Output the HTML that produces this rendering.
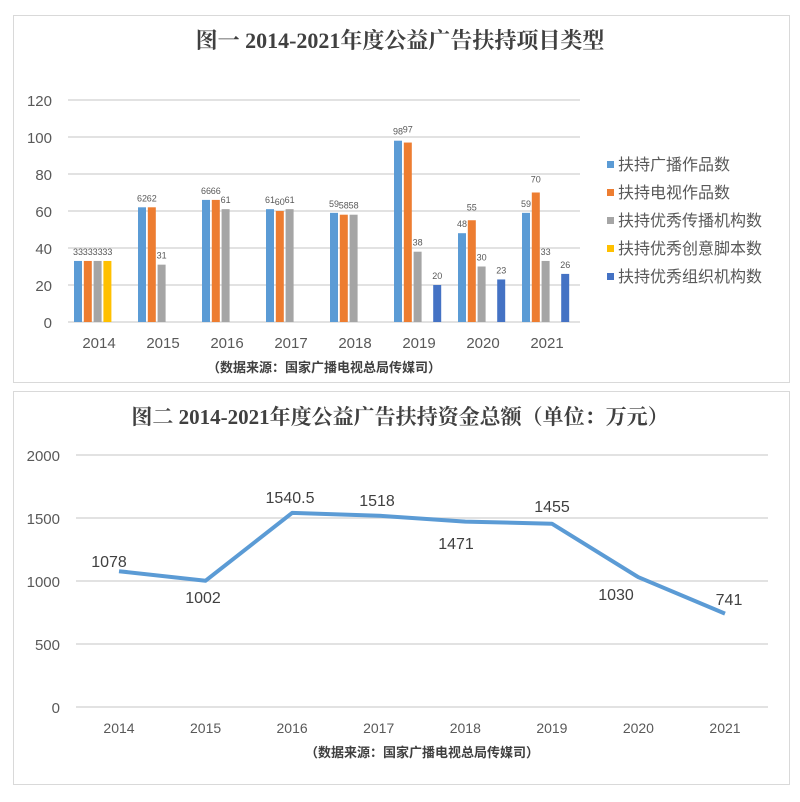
<!DOCTYPE html>
<html><head><meta charset="utf-8"><style>
body{margin:0;background:#fff;}
svg{display:block;font-family:"Liberation Sans","Noto Sans CJK SC",sans-serif;}
</style></head><body>
<svg width="800" height="802" viewBox="0 0 800 802" xmlns="http://www.w3.org/2000/svg">
<rect x="13.5" y="15.5" width="776" height="367" fill="#fff" stroke="#d9d9d9"/>
<rect x="13.5" y="391.5" width="776" height="393" fill="#fff" stroke="#d9d9d9"/>
<text x="400" y="48" text-anchor="middle" font-size="22" font-weight="bold" fill="#404040" font-family="'Liberation Serif','Noto Serif CJK SC',serif">图一 2014-2021年度公益广告扶持项目类型</text>
<g stroke="#d9d9d9" stroke-width="1.5">
<line x1="68" x2="580" y1="100" y2="100"/><line x1="68" x2="580" y1="137" y2="137"/><line x1="68" x2="580" y1="174" y2="174"/><line x1="68" x2="580" y1="211" y2="211"/><line x1="68" x2="580" y1="248" y2="248"/><line x1="68" x2="580" y1="285" y2="285"/><line x1="68" x2="580" y1="322" y2="322"/>
</g>
<g font-size="15" fill="#595959" text-anchor="end">
<text x="52" y="106">120</text><text x="52" y="143">100</text><text x="52" y="180">80</text><text x="52" y="217">60</text><text x="52" y="254">40</text><text x="52" y="291">20</text><text x="52" y="328">0</text>
</g>
<g id="bars"></g>
<g font-size="15" fill="#595959" text-anchor="middle">
<text x="99" y="348">2014</text><text x="163" y="348">2015</text><text x="227" y="348">2016</text><text x="291" y="348">2017</text><text x="355" y="348">2018</text><text x="419" y="348">2019</text><text x="483" y="348">2020</text><text x="547" y="348">2021</text>
</g>
<text x="324" y="372" text-anchor="middle" font-size="13" font-weight="bold" fill="#404040">（数据来源：国家广播电视总局传媒司）</text>
<g font-size="16" fill="#595959">
<rect x="607" y="161" width="7" height="7" fill="#5b9bd5"/><text x="618" y="170">扶持广播作品数</text>
<rect x="607" y="189" width="7" height="7" fill="#ed7d31"/><text x="618" y="198">扶持电视作品数</text>
<rect x="607" y="217" width="7" height="7" fill="#a5a5a5"/><text x="618" y="226">扶持优秀传播机构数</text>
<rect x="607" y="245" width="7" height="7" fill="#ffc000"/><text x="618" y="254">扶持优秀创意脚本数</text>
<rect x="607" y="273" width="7" height="7" fill="#4472c4"/><text x="618" y="282">扶持优秀组织机构数</text>
</g>

<text x="400" y="424" text-anchor="middle" font-size="21" font-weight="bold" fill="#404040" font-family="'Liberation Serif','Noto Serif CJK SC',serif">图二 2014-2021年度公益广告扶持资金总额（单位：万元）</text>
<g stroke="#d9d9d9" stroke-width="1.5">
<line x1="76" x2="768" y1="455" y2="455"/><line x1="76" x2="768" y1="518" y2="518"/><line x1="76" x2="768" y1="581" y2="581"/><line x1="76" x2="768" y1="644" y2="644"/><line x1="76" x2="768" y1="707" y2="707"/>
</g>
<g font-size="15" fill="#595959" text-anchor="end">
<text x="60" y="461">2000</text><text x="60" y="524">1500</text><text x="60" y="587">1000</text><text x="60" y="650">500</text><text x="60" y="713">0</text>
</g>
<polyline fill="none" stroke="#5b9bd5" stroke-width="4" stroke-linejoin="round" points="119,571.2 205.6,580.7 292.1,512.9 378.7,515.7 465.3,521.6 551.9,523.7 638.4,577.2 725,613.6"/>
<g font-size="16" fill="#404040" text-anchor="middle">
<text x="109" y="567">1078</text><text x="203" y="603">1002</text><text x="290" y="503">1540.5</text><text x="377" y="506">1518</text><text x="456" y="549">1471</text><text x="552" y="512">1455</text><text x="616" y="600">1030</text><text x="729" y="605">741</text>
</g>
<g font-size="14" fill="#595959" text-anchor="middle">
<text x="119" y="733">2014</text><text x="205.6" y="733">2015</text><text x="292.1" y="733">2016</text><text x="378.7" y="733">2017</text><text x="465.3" y="733">2018</text><text x="551.9" y="733">2019</text><text x="638.4" y="733">2020</text><text x="725" y="733">2021</text>
</g>
<text x="422" y="757" text-anchor="middle" font-size="13" font-weight="bold" fill="#404040">（数据来源：国家广播电视总局传媒司）</text>
</svg>
<script>
var data=[[33,33,33,33,0],[62,62,31,0,0],[66,66,61,0,0],[61,60,61,0,0],[59,58,58,0,0],[98,97,38,0,20],[48,55,30,0,23],[59,70,33,0,26]];
var cols=["#5b9bd5","#ed7d31","#a5a5a5","#ffc000","#4472c4"];
var g=document.getElementById("bars"),ns="http://www.w3.org/2000/svg",s="";
for(var c=0;c<8;c++){var cx=98+64*c;for(var i=0;i<5;i++){var v=data[c][i];if(!v)continue;var x=cx-24+9.8*i,h=v*1.85,y=322-h;
s+='<rect x="'+x+'" y="'+y+'" width="8" height="'+h+'" fill="'+cols[i]+'"/>';
s+='<text x="'+(x+4)+'" y="'+(y-6-(i==1&&c>=5?4:0))+'" font-size="9" fill="#595959" text-anchor="middle">'+v+'</text>';}}
g.innerHTML=s;
</script>
</body></html>
